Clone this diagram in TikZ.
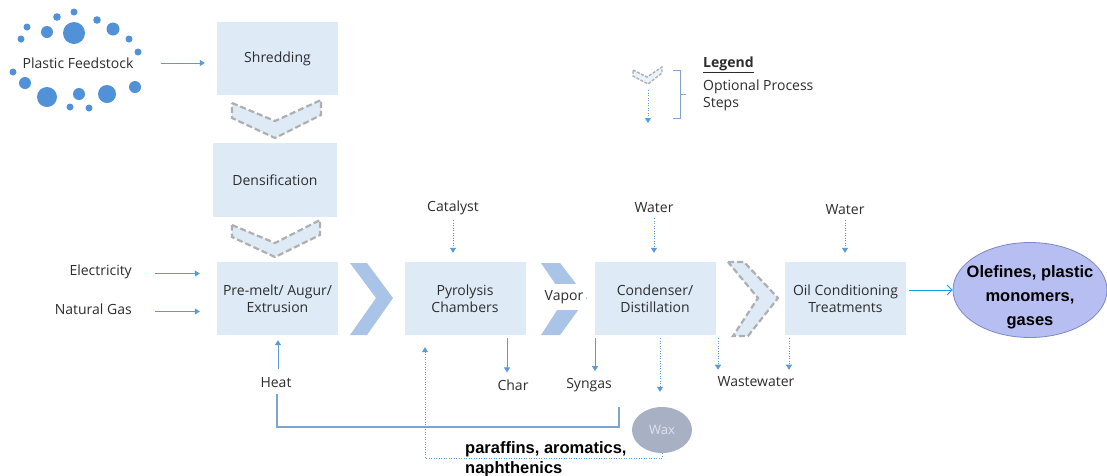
\documentclass[tikz,border=0pt]{standalone}
\usepackage{fontspec}
\setmainfont{Open Sans}
\newfontfamily\arialfont{Liberation Sans}
\usetikzlibrary{arrows.meta,shapes.geometric}
\definecolor{boxfill}{RGB}{222,235,247}
\definecolor{arrblue}{RGB}{91,155,213}
\definecolor{chev}{RGB}{170,196,232}
\definecolor{dashgray}{RGB}{175,175,175}
\definecolor{txt}{RGB}{45,45,45}
\definecolor{dotcol}{RGB}{80,145,215}
\definecolor{waxfill}{RGB}{168,176,196}
\definecolor{waxtxt}{RGB}{222,226,236}
\definecolor{olefill}{RGB}{182,190,242}
\definecolor{oleedge}{RGB}{125,135,195}
\definecolor{cyanarr}{RGB}{20,160,230}
\definecolor{linecol}{RGB}{125,165,210}
\begin{document}
\begin{tikzpicture}[x=1pt,y=-1pt,
  proc/.style={rectangle, fill=boxfill, minimum width=121pt, minimum height=73pt, align=center, text=txt, font=\fontsize{14}{16.5}\selectfont, inner sep=0pt},
  lbl/.style={text=txt, font=\fontsize{14}{16.5}\selectfont, inner sep=0pt},
  boldlbl/.style={text=black, font=\arialfont\bfseries\fontsize{16.5}{20}\selectfont, inner sep=0pt},
  arr/.style={draw=arrblue, line width=0.8pt, -{Triangle[width=6pt,length=5pt]}},
  dotarr/.style={arr, dash pattern=on 1pt off 1.5pt},
  dchev/.style={draw=dashgray, line width=2.2pt, dash pattern=on 6pt off 3pt, fill=boxfill, line join=miter},
  schev/.style={fill=chev},
  fdot/.style={fill=dotcol},
  heatline/.style={draw=linecol, line width=1.1pt}
]
\path[use as bounding box, fill=white] (0,0) rectangle (1107,475);

% feedstock dots
\foreach \x/\y/\r in {57/17/3.8, 74/12/3.5, 97/20/3.8, 27/27/3.5, 47/32/6, 74/33/11, 113/29/6.5,
  21/39/3.5, 129/39/3.5, 138/52/3.5, 13/72/3.5, 25/83/6, 47/97/10, 79/94/6, 107/94/9, 135/87/6, 70/107/3.5, 89/108/3.5}
  \fill[fdot] (\x,\y) circle (\r);
\node[lbl] (feed) at (78,63) {Plastic Feedstock};

% process boxes
\node[proc] (shred) at (277.5,58.5) {Shredding};
\node[proc, minimum width=124pt, minimum height=74pt] (dens) at (275,180) {Densification};
\node[proc] (melt) at (277.5,298.5) {Pre-melt/ Augur/\\Extrusion};
\node[proc] (pyro) at (465,298.5) {Pyrolysis\\Chambers};
\node[proc] (cond) at (655,298.5) {Condenser/\\Distillation};
\node[proc] (oil) at (845.5,298.5) {Oil Conditioning\\Treatments};

% chevrons
\path[dchev] (232,103) -- (275,121) -- (321,100) -- (321,115) -- (275,138) -- (232,118) -- cycle;
\path[dchev] (232,225) -- (275,243) -- (320,220) -- (320,235) -- (275,257) -- (232,237) -- cycle;
\path[schev] (350,263) -- (367,263) -- (393,298) -- (367,335) -- (350,335) -- (376,298) -- cycle;
\path[schev] (541,263) -- (560,263) -- (587,298) -- (560,335) -- (541,335) -- (565,298) -- cycle;
\node[lbl, fill=white, inner xsep=3pt, inner ysep=6pt] (vapor) at (564,297) {Vapor};
\path[dchev] (728,262) -- (744,262) -- (778,298) -- (748,336) -- (733,336) -- (758,298) -- cycle;

% feedstock arrow
\draw[arr, shorten <=27pt, shorten >=12pt] (feed.east) -- (feed.east -| shred.west);

% inputs
\node[lbl, anchor=east] (elec) at (132,272) {Electricity};
\node[lbl, anchor=east] (gas) at (132,309) {Natural Gas};
\draw[arr, shorten <=23pt, shorten >=17pt] ([yshift=-1.5pt]elec.east) -- ([yshift=-1.5pt]elec.east -| melt.west);
\draw[arr, shorten <=23pt, shorten >=17pt] ([yshift=-2.5pt]gas.east) -- ([yshift=-2.5pt]gas.east -| melt.west);

\node[lbl] (cat) at (453,208) {Catalyst};
\node[lbl] (w1) at (654,208) {Water};
\node[lbl] (w2) at (845,210) {Water};
\draw[dotarr, shorten <=5pt, shorten >=9pt] (cat.south) -- (cat.south |- pyro.north);
\draw[dotarr, shorten <=5pt, shorten >=9pt] (w1.south) -- (w1.south |- cond.north);
\draw[dotarr, shorten <=5pt, shorten >=9pt] (w2.south) -- (w2.south |- oil.north);

% outputs
\node[lbl] (heat) at (276,383) {Heat};
\node[lbl] (char) at (513,385) {Char};
\node[lbl] (syn) at (589,385) {Syngas};
\node[lbl] (ww) at (756,382) {Wastewater};
\node[ellipse, fill=waxfill, minimum width=60pt, minimum height=46pt, inner sep=0pt, text=waxtxt, font=\fontsize{13}{16}\selectfont] (wax) at (662,430) {Wax};

\coordinate (cx) at (507,0);
\coordinate (sx) at (595,0);
\coordinate (wx) at (660,0);
\coordinate (w1x) at (718,0);
\coordinate (w2x) at (789,0);
\coordinate (px) at (425,0);
\draw[arr, shorten <=3pt, shorten >=7pt] (pyro.south -| cx) -- (char.north -| cx);
\draw[arr, shorten <=3pt, shorten >=7pt] (cond.south -| sx) -- (syn.north -| sx);
\draw[dotarr, shorten <=3pt, shorten >=15pt] (cond.south -| wx) -- (wax.north -| wx);
\draw[dotarr, shorten <=3pt, shorten >=7pt] (cond.south -| w1x) -- (ww.north -| w1x);
\draw[dotarr, shorten <=3pt, shorten >=7pt] (oil.south -| w2x) -- (ww.north -| w2x);
\draw[arr, shorten <=9pt, shorten >=5pt] ([xshift=2pt]heat.north) -- ([xshift=2pt]heat.north |- melt.south);

\coordinate (hc) at (619,407);
\draw[heatline] (hc) -- ++(0,20) -| ([xshift=1pt,yshift=-6pt]heat.south);
\draw[dotarr, shorten >=12pt] (wax.south) -- ++(0,5) -| (px |- pyro.south);

\node[boldlbl, anchor=base west, align=left] (par) at (465,473) {paraffins, aromatics,\\naphthenics};

% product
\node[ellipse, fill=olefill, draw=oleedge, line width=0.8pt, minimum width=154pt, minimum height=95pt, inner sep=0pt] (ole) at (1030,290) {};
\node[boldlbl, align=center, font=\arialfont\bfseries\fontsize{16.5}{24}\selectfont] (oletxt) at (1030,297) {Olefines, plastic\\monomers,\\gases};
\draw[draw=cyanarr, line width=0.9pt, -{Straight Barb[length=5pt,width=10pt]}, shorten <=3pt] (oil.east |- ole.west) -- (ole.west);

% legend
\path[dchev, line width=1.4pt, dash pattern=on 3pt off 1.5pt, fill=boxfill!60!white] (633,70) -- (647,77) -- (662,67) -- (662,73) -- (648,84) -- (633,76) -- cycle;
\coordinate (lg1) at (648,90);
\coordinate (lg2) at (648,123);
\draw[dotarr] (lg1) -- (lg2);
\draw[draw=linecol, line width=1pt] (673,70) -- (680,70) -- (680,118) -- (673,118) (680,94) -- (686,94);
\node[lbl, anchor=base west, font=\fontsize{14}{16.5}\selectfont\bfseries] (leg) at (703,67) {\underline{Legend}};
\node[lbl, anchor=base west, align=left] (opt) at (703,107) {Optional Process\\Steps};
\end{tikzpicture}
\end{document}
